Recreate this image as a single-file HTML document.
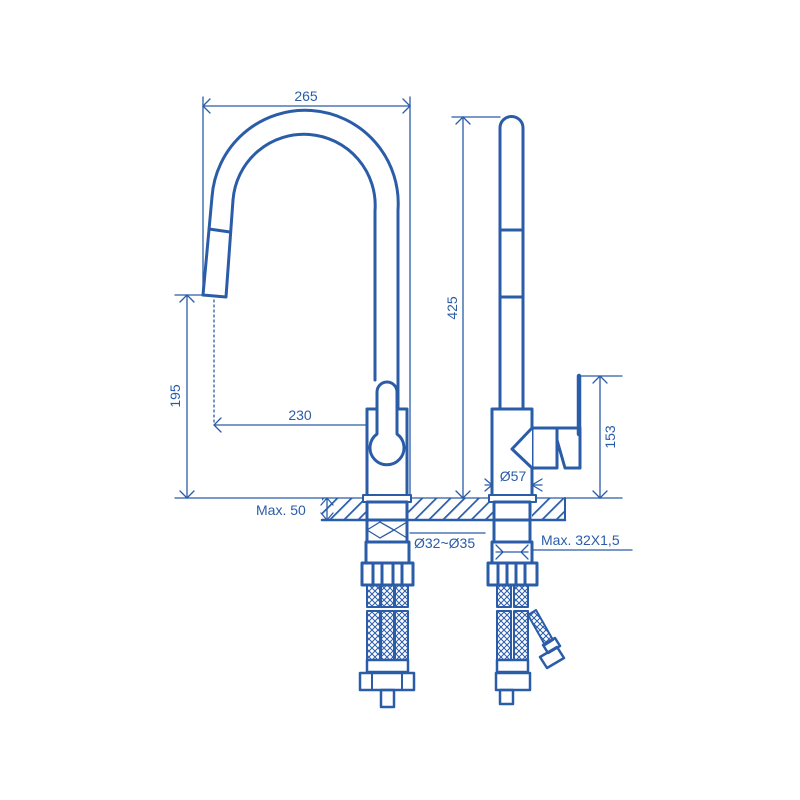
<!DOCTYPE html>
<html><head><meta charset="utf-8"><style>
html,body{margin:0;padding:0;background:#fff;}
svg{display:block}
text{font-family:"Liberation Sans",sans-serif;font-size:14px;fill:#2a5ca8}
</style></head><body>
<svg width="800" height="800" viewBox="0 0 800 800" xmlns="http://www.w3.org/2000/svg">
<defs>
<pattern id="h" patternUnits="userSpaceOnUse" width="10" height="10" patternTransform="rotate(45)">
<line x1="0" y1="0" x2="0" y2="10" stroke="#2a5ca8" stroke-width="3.5"/>
</pattern>
<pattern id="x" patternUnits="userSpaceOnUse" width="6" height="6">
<path d="M0 0L6 6M6 0L0 6" stroke="#2a5ca8" stroke-width="1"/>
</pattern>
</defs>
<g fill="none" stroke="#2a5ca8" stroke-linecap="round" stroke-linejoin="round">
<g stroke-width="1.3">
<line x1="203" y1="97" x2="203" y2="296"/>
<line x1="410" y1="97" x2="410" y2="498"/>
<line x1="203" y1="106" x2="410" y2="106"/>
<path d="M210 99L203 106L210 113M403 99L410 106L403 113"/>
<line x1="175" y1="295" x2="203" y2="295"/>
<line x1="187" y1="295" x2="187" y2="498"/>
<path d="M180 302L187 295L194 302M180 491L187 498L194 491"/>
<line x1="175" y1="498" x2="622" y2="498"/>
<line x1="214" y1="425" x2="387" y2="425"/>
<path d="M221 418L214 425L221 432M380 418L387 425L380 432"/>
<line x1="214" y1="300" x2="214" y2="425" stroke-dasharray="2 3"/>
<line x1="387" y1="420" x2="387" y2="498" stroke-dasharray="2 3"/>
<line x1="452" y1="117" x2="500" y2="117"/>
<line x1="463" y1="117" x2="463" y2="498"/>
<path d="M456 124L463 117L470 124M456 491L463 498L470 491"/>
<line x1="580" y1="376" x2="622" y2="376"/>
<line x1="600" y1="376" x2="600" y2="498"/>
<path d="M593 383L600 376L607 383M593 491L600 498L607 491"/>
<line x1="485" y1="485" x2="542" y2="485"/>
<line x1="492" y1="476" x2="492" y2="494"/><line x1="532" y1="476" x2="532" y2="494"/>
<path d="M485 479L492 485L485 491M542 479L532 485L542 491"/>
<line x1="327" y1="498" x2="327" y2="520"/>
<path d="M321 505L327 498L333 505M321 513L327 520L333 513"/>
<line x1="410" y1="533" x2="485" y2="533"/>
<line x1="520" y1="550" x2="632" y2="550"/>
</g>
<rect x="322" y="498" width="45" height="22" fill="url(#h)" stroke="none"/>
<rect x="408" y="498" width="86" height="22" fill="url(#h)" stroke="none"/>
<rect x="532" y="498" width="33" height="22" fill="url(#h)" stroke="none"/>
<line x1="322" y1="520" x2="565" y2="520" stroke-width="2.5"/>
<line x1="565" y1="498" x2="565" y2="520" stroke-width="2"/>
<g stroke-width="3">
<path d="M212 197 A93 93 0 0 1 398 210 L398 409"/>
<path d="M233 200 A71 71 0 0 1 375 211 L375 380"/>
<path d="M212 197 L203 295 L226 297 L233 200"/>
<line x1="209" y1="229" x2="230" y2="232"/>
<rect x="367" y="409" width="40" height="89" fill="#fff"/>
<path d="M377 392 A10 10 0 0 1 397 392 L397 434 A17 17 0 1 1 377 434 Z" fill="#fff"/>
<rect x="363" y="495" width="48" height="7" fill="#fff" stroke-width="2"/>
<rect x="367" y="502" width="40" height="18" fill="#fff"/>
<line x1="367" y1="520" x2="367" y2="542"/><line x1="407" y1="520" x2="407" y2="542"/>
<rect x="366" y="542" width="43" height="43" fill="#fff"/>
<rect x="362" y="563" width="51" height="22" fill="#fff"/>
<rect x="373" y="563" width="9" height="22"/><rect x="393" y="563" width="9" height="22"/>
<g fill="url(#x)" stroke-width="2">
<rect x="367" y="585" width="13" height="22"/><rect x="381" y="585" width="13" height="22"/><rect x="395" y="585" width="13" height="22"/>
<rect x="367" y="611" width="13" height="49"/><rect x="381" y="611" width="13" height="49"/><rect x="395" y="611" width="13" height="49"/>
</g>
<rect x="367" y="660" width="41" height="12" stroke-width="2.5"/>
<rect x="360" y="673" width="54" height="17" stroke-width="2.5"/>
<line x1="372" y1="673" x2="372" y2="690" stroke-width="2"/><line x1="402" y1="673" x2="402" y2="690" stroke-width="2"/>
<rect x="381" y="690" width="13" height="17" stroke-width="2.5"/>
<path d="M500 410 L500 128 A11.5 11.5 0 0 1 523 128 L523 410"/>
<line x1="500" y1="230" x2="523" y2="230"/><line x1="500" y1="297" x2="523" y2="297"/>
<rect x="492" y="409" width="40" height="89" fill="#fff"/>
<path d="M532 428 L512 449 L532 468" fill="#fff"/>
<path d="M532 428 L580 428 M557 428 L557 468 L532 468 M557 440 L565 468 L580 468 L580 428" fill="none"/>
<line x1="579" y1="376" x2="579" y2="434" stroke-width="4.5"/>
<rect x="489" y="495" width="47" height="7" fill="#fff" stroke-width="2"/>
<rect x="494" y="502" width="36" height="18" fill="#fff"/>
<line x1="494" y1="520" x2="494" y2="542"/><line x1="530" y1="520" x2="530" y2="542"/>
<rect x="492" y="542" width="40" height="43" fill="#fff"/>
<rect x="488" y="563" width="49" height="22" fill="#fff"/>
<rect x="498" y="563" width="9" height="22"/><rect x="516" y="563" width="9" height="22"/>
<g fill="url(#x)" stroke-width="2">
<rect x="497" y="585" width="14" height="22"/><rect x="514" y="585" width="14" height="22"/>
<rect x="497" y="611" width="14" height="49"/><rect x="514" y="611" width="14" height="49"/>
<path d="M528 615 L536 610 L553 640 L545 645 Z"/>
</g>
<path d="M543 645 L555 638 L560 646 L548 653 Z" stroke-width="2.5"/>
<path d="M540 657 L557 647 L564 658 L547 668 Z" stroke-width="2.5"/>
<rect x="497" y="660" width="31" height="12" stroke-width="2.5"/>
<rect x="496" y="673" width="34" height="17" stroke-width="2.5"/>
<rect x="500" y="690" width="13" height="14" stroke-width="2.5"/>
</g>
<path d="M367 530 L380 522 L394 530 L407 522 M367 530 L380 538 L394 530 L407 538" stroke-width="1.3"/>
<path d="M496 545 L503 552 L496 559 M528 545 L521 552 L528 559 M496 552 L528 552" stroke-width="1.3"/>
</g>
<text x="306" y="101" text-anchor="middle">265</text>
<text x="300" y="420" text-anchor="middle">230</text>
<text transform="translate(180,396) rotate(-90)" text-anchor="middle">195</text>
<text transform="translate(457,308) rotate(-90)" text-anchor="middle">425</text>
<text transform="translate(615,437) rotate(-90)" text-anchor="middle">153</text>
<text x="513" y="481" text-anchor="middle">Ø57</text>
<text x="256" y="515">Max. 50</text>
<text x="414" y="548">Ø32~Ø35</text>
<text x="541" y="545">Max. 32X1,5</text>
</svg>
</body></html>
